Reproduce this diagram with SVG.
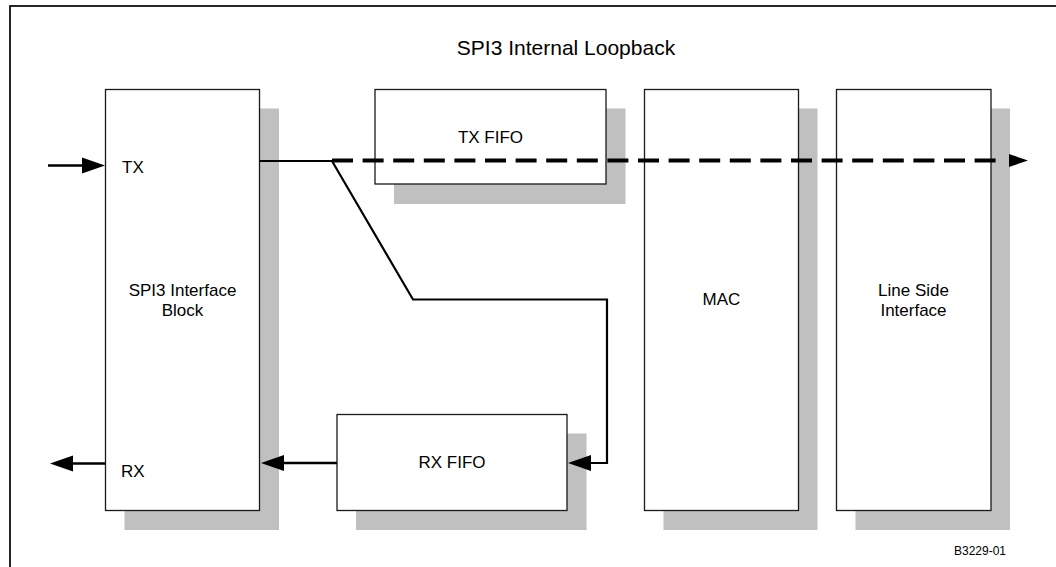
<svg xmlns="http://www.w3.org/2000/svg" width="1056" height="567" viewBox="0 0 1056 567">
<style>
  .frame{fill:none;stroke:#000;stroke-width:1.7}
  .shadow{fill:#c0c0c0;stroke:none}
  .box{fill:#fff;stroke:#1a1a1a;stroke-width:1.3}
  .lbl{font-family:"Liberation Sans",Arial,sans-serif;font-size:17px;fill:#000}
  .mid{text-anchor:middle}
  .title{font-family:"Liberation Sans",Arial,sans-serif;font-size:21px;fill:#000;text-anchor:middle}
  .ref{font-family:"Liberation Sans",Arial,sans-serif;font-size:12px;fill:#000}
  .wire{fill:none;stroke:#000;stroke-width:2.5}
  .thin{fill:none;stroke:#000;stroke-width:2.2;stroke-linejoin:miter}
  .dash{fill:none;stroke:#000;stroke-width:4;stroke-dasharray:21 9.6}
</style>
<defs>
  <marker id="ah" markerUnits="userSpaceOnUse" markerWidth="30" markerHeight="20" refX="18" refY="8" orient="auto" overflow="visible">
    <path d="M0,0 L23,8 L0,16 z" fill="#000"/>
  </marker>
  <marker id="ahd" markerUnits="userSpaceOnUse" markerWidth="40" markerHeight="20" refX="0" refY="6.5" orient="auto" overflow="visible">
    <path d="M11,0 L30,6.5 L11,13 z" fill="#000"/>
  </marker>
</defs>
<rect width="1056" height="567" fill="#fff"/>
<rect class="frame" x="10" y="6" width="1080" height="600"/>
<text class="title" x="566" y="55">SPI3 Internal Loopback</text>

<g id="spi3">
  <rect class="shadow" x="124.5" y="108.5" width="154.5" height="421.5"/>
  <rect class="box" x="105.5" y="89.5" width="154" height="421"/>
  <text class="lbl mid" x="182.5" y="296">SPI3 Interface</text>
  <text class="lbl mid" x="182.5" y="316">Block</text>
  <text class="lbl" x="122" y="173">TX</text>
  <text class="lbl" x="121" y="477">RX</text>
</g>
<g id="txfifo">
  <rect class="shadow" x="394" y="108.5" width="231.5" height="95.5"/>
  <rect class="box" x="375" y="89.5" width="231" height="94.5"/>
  <text class="lbl mid" x="490.5" y="143">TX FIFO</text>
</g>
<g id="rxfifo">
  <rect class="shadow" x="356" y="433.5" width="230.5" height="96.5"/>
  <rect class="box" x="337" y="414.5" width="230" height="96"/>
  <text class="lbl mid" x="452" y="468">RX FIFO</text>
</g>
<g id="mac">
  <rect class="shadow" x="663.5" y="108.5" width="154" height="421.5"/>
  <rect class="box" x="644.5" y="89.5" width="154" height="421"/>
  <text class="lbl mid" x="721.5" y="305">MAC</text>
</g>
<g id="lsi">
  <rect class="shadow" x="855.5" y="108.5" width="154.5" height="421.5"/>
  <rect class="box" x="836.5" y="89.5" width="154.5" height="421"/>
  <text class="lbl mid" x="913.5" y="296">Line Side</text>
  <text class="lbl mid" x="913.5" y="316">Interface</text>
</g>

<g id="connectors">
  <path class="wire" d="M48,165.5 H100" marker-end="url(#ah)"/>
  <path class="thin" d="M259.5,161 H332 L413,299.5 H607 V463 H573" marker-end="url(#ah)"/>
  <path class="dash" d="M332,160.5 H998" marker-end="url(#ahd)"/>
  <path class="wire" d="M337,463 H266" marker-end="url(#ah)"/>
  <path class="wire" d="M105,463.5 H55" marker-end="url(#ah)"/>
</g>
<text class="ref" x="954" y="555">B3229-01</text>
</svg>
